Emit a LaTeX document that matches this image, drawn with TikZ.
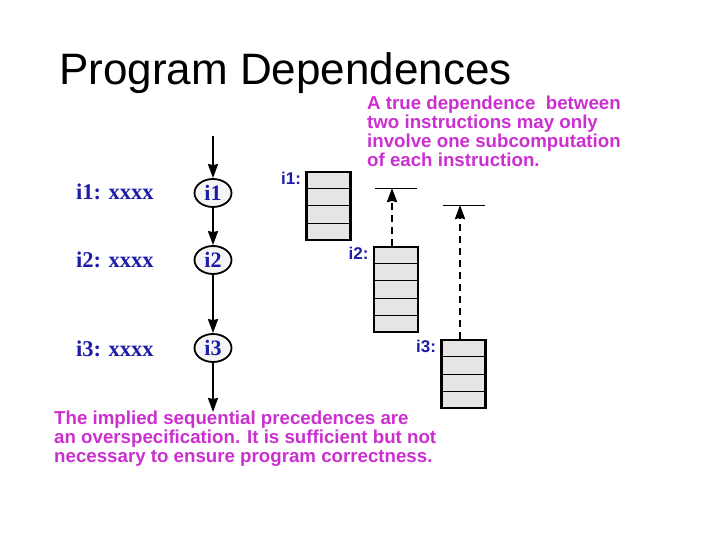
\documentclass[tikz,border=0pt]{standalone}
\usepackage{fontspec}
\setmainfont{Liberation Serif}
\setsansfont{Liberation Sans}
\usetikzlibrary{positioning,calc,arrows.meta,shapes.geometric}
\definecolor{stmtblue}{HTML}{1C1CA8}
\definecolor{notemagenta}{HTML}{CC2FD0}

\begin{document}
\begin{tikzpicture}[
    x=1pt, y=-1pt,
    every node/.style={inner sep=0pt},
    stmt/.style={font=\fontsize{22.5}{26}\selectfont\bfseries, text=stmtblue},
    instr/.style={ellipse, draw, line width=1.8pt, fill=gray!8, minimum width=37pt,
      minimum height=28pt, font=\fontsize{22}{24}\selectfont\bfseries, text=stmtblue},
    note/.style={font=\sffamily\bfseries\fontsize{18.7}{18.8}\selectfont,
      text=notemagenta, align=left, anchor=north west},
    boxlabel/.style={font=\sffamily\bfseries\fontsize{17}{19}\selectfont,
      text=stmtblue, anchor=north east, xshift=-4pt, yshift=-1pt},
    subbox/.style={draw, line width=2.6pt, fill=gray!20, minimum width=44pt},
    rowline/.style={line width=1pt},
    flow/.style={-{Stealth[length=14pt,width=10pt,inset=1pt]}, line width=1.8pt},
    dep/.style={flow, line width=2.2pt, dash pattern=on 7pt off 5pt},
    bar/.style={line width=0.9pt}
  ]
  \useasboundingbox (0,0) rectangle (720,540);

  \node[anchor=base west, font=\sffamily\fontsize{44}{50}\selectfont] (title)
    at (59,85) {Program Dependences};

  % statements and the sequential order
  \node[stmt, anchor=west] (s1) at (76,192) {i1: xxxx};
  \node[stmt, anchor=west] (s2) at (76,260) {i2: xxxx};
  \node[stmt, anchor=west] (s3) at (76,349) {i3: xxxx};

  \node[instr] (i1) at (213,193) {i1};
  \node[instr] (i2) at (213,260) {i2};
  \node[instr] (i3) at (213,348) {i3};
  \coordinate (seqin) at (213,136);
  \coordinate (seqout) at (213,412);

  \draw[flow] (seqin) -- (i1);
  \draw[flow] (i1) -- (i2);
  \draw[flow] (i2) -- (i3);
  \draw[flow] (i3) -- (seqout);

  % subcomputations of each instruction
  \node[subbox, minimum height=68pt] (b1) at (328.5,206) {};
  \node[subbox, minimum height=85pt] (b2) at (396,289.5) {};
  \node[subbox, minimum height=68pt] (b3) at (463.5,374) {};
  \foreach \k in {1,2,3}
    \draw[rowline] ($(b1.north west)!\k/4!(b1.south west)$) -- ($(b1.north east)!\k/4!(b1.south east)$);
  \foreach \k in {1,2,3,4}
    \draw[rowline] ($(b2.north west)!\k/5!(b2.south west)$) -- ($(b2.north east)!\k/5!(b2.south east)$);
  \foreach \k in {1,2,3}
    \draw[rowline] ($(b3.north west)!\k/4!(b3.south west)$) -- ($(b3.north east)!\k/4!(b3.south east)$);

  \node[boxlabel] (l1) at (b1.north west) {i1:};
  \node[boxlabel] (l2) at (b2.north west) {i2:};
  \node[boxlabel] (l3) at (b3.north west) {i3:};

  % true dependences
  \coordinate (t2) at (392,188);
  \coordinate (t3) at (460,205);
  \draw[bar] (375,188) -- (417,188);
  \draw[bar] (443,205) -- (485,205);
  \draw[dep] (b2.north -| t2) -- (t2);
  \draw[dep] (b3.north -| t3) -- (t3);

  \node[note] (truenote) at (367,96)
    {A true dependence \ between\\two instructions may only\\involve one subcomputation\\of each instruction.};
  \node[note] (seqnote) at (54,411)
    {The implied sequential precedences are\\an overspecification. It is sufficient but not\\necessary to ensure program correctness.};
\end{tikzpicture}
\end{document}
